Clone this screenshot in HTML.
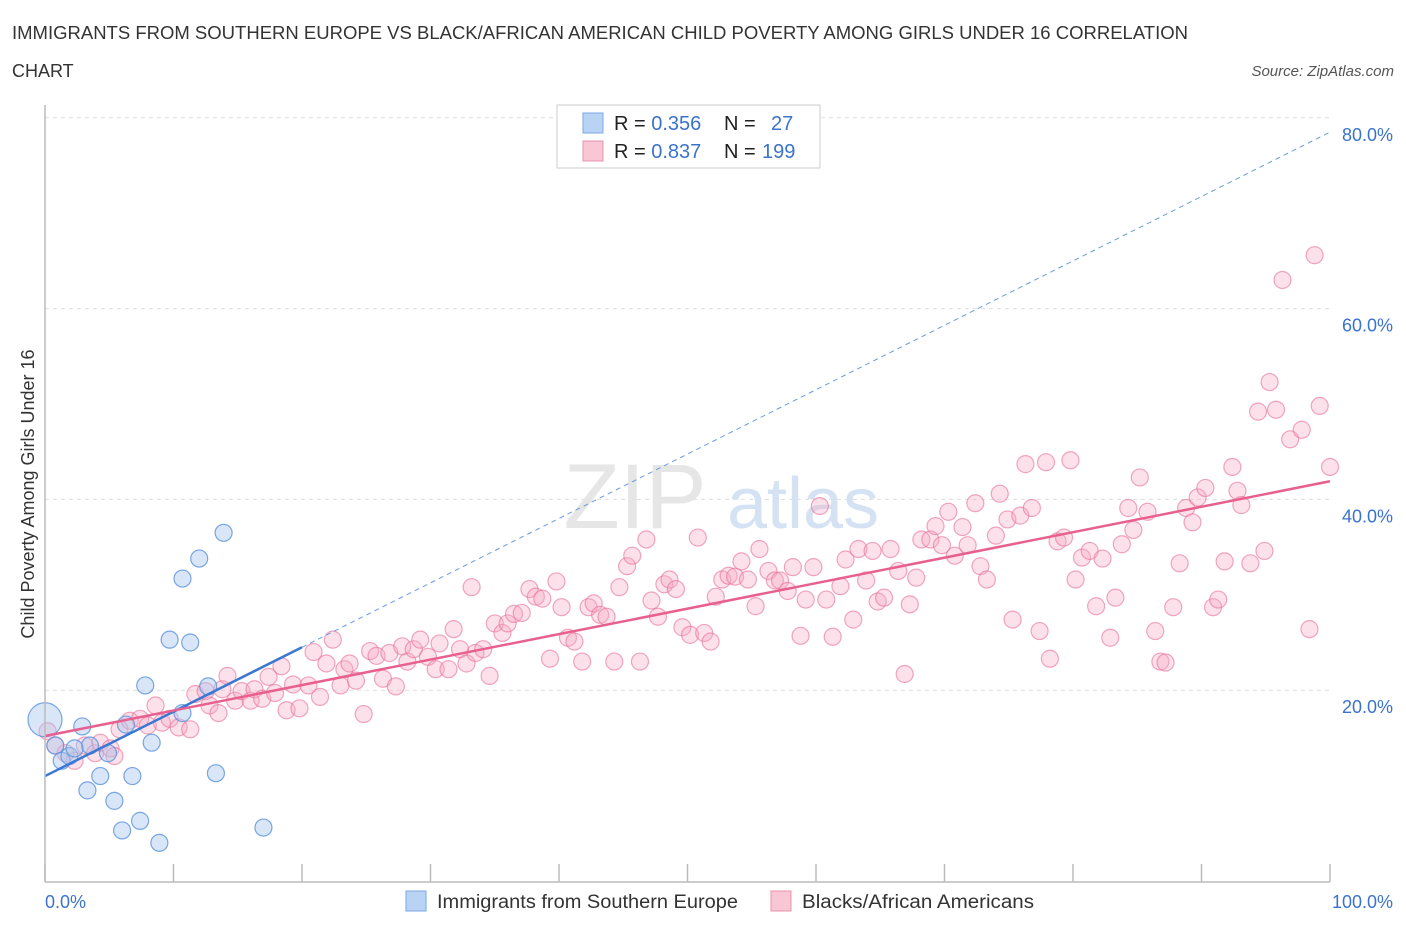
<!DOCTYPE html>
<html><head><meta charset="utf-8"><style>
body{margin:0;background:#fff;font-family:"Liberation Sans",sans-serif;}
svg text{font-family:"Liberation Sans",sans-serif;}
</style></head><body>
<svg width="1406" height="930" xmlns="http://www.w3.org/2000/svg">
<text x="12" y="39" font-size="18" fill="#333" textLength="1176" lengthAdjust="spacingAndGlyphs">IMMIGRANTS FROM SOUTHERN EUROPE VS BLACK/AFRICAN AMERICAN CHILD POVERTY AMONG GIRLS UNDER 16 CORRELATION</text>
<text x="12" y="77" font-size="18" fill="#333">CHART</text>
<text x="1394" y="76" font-size="15" fill="#555" font-style="italic" text-anchor="end">Source: ZipAtlas.com</text>
<g id="grid"></g>
<text x="635" y="528" font-size="92" fill="#e6e6e6" font-family="Liberation Serif" text-anchor="middle">ZIP</text>
<text x="803" y="528" font-size="72" fill="#d4e2f3" text-anchor="middle">atlas</text>
<g id="points"></g>
<g id="lines"></g>
<line x1="45" y1="105" x2="45" y2="882" stroke="#bbb" stroke-width="1.5"/>
<line x1="45" y1="882" x2="1330" y2="882" stroke="#bbb" stroke-width="1.5"/>
<text transform="translate(34,494) rotate(-90)" font-size="18" fill="#333" text-anchor="middle">Child Poverty Among Girls Under 16</text>
<text x="45" y="908" font-size="18" fill="#3b73cc">0.0%</text>
<text x="1393" y="908" font-size="18" fill="#3b73cc" text-anchor="end">100.0%</text>
<g>
<rect x="557" y="105" width="263" height="63" fill="#fff" stroke="#ccc"/>
<rect x="583" y="113" width="20" height="20" fill="#b8d3f4" stroke="#7aa8e4"/>
<rect x="583" y="141" width="20" height="20" fill="#f9c6d5" stroke="#ec93b0"/>
<text x="614" y="130" font-size="20" fill="#222">R = <tspan fill="#3b73cc">0.356</tspan><tspan x="724">N = </tspan><tspan x="771" fill="#3b73cc">27</tspan></text>
<text x="614" y="158" font-size="20" fill="#222">R = <tspan fill="#3b73cc">0.837</tspan><tspan x="724">N = </tspan><tspan x="762" fill="#3b73cc">199</tspan></text>
</g>
<g>
<rect x="406" y="891" width="20" height="20" fill="#b8d3f4" stroke="#7aa8e4"/>
<text x="437" y="908" font-size="19" fill="#333" textLength="301" lengthAdjust="spacingAndGlyphs">Immigrants from Southern Europe</text>
<rect x="771" y="891" width="20" height="20" fill="#f9c6d5" stroke="#ec93b0"/>
<text x="802" y="908" font-size="19" fill="#333" textLength="232" lengthAdjust="spacingAndGlyphs">Blacks/African Americans</text>
</g>
</svg>
<script>
const yTicks=[20,40,60,80];
const yTickLabels=["20.0%","40.0%","60.0%","80.0%"];
const xTicks=[0,10,20,30,40,50,60,70,80,90,100];
const blueX=[0,0.8,1.3,1.9,2.9,3.5,4.3,3.3,4.9,5.4,6.0,6.3,6.8,7.4,7.8,8.3,8.9,9.7,10.7,11.3,12.0,12.7,13.3,13.9,17.0,10.7,2.3];
const blueY=[16.9,14.2,12.6,13.1,16.2,14.2,11.0,9.5,13.4,8.4,5.3,16.4,11.0,6.3,20.5,14.5,4.0,25.3,31.7,25.0,33.8,20.4,11.3,36.5,5.6,17.6,13.9];
const pinkX=[0.2,0.8,1.6,2.3,3.1,3.9,4.3,5.1,5.4,5.8,6.6,7.4,8.0,8.6,9.1,9.7,10.4,11.3,11.7,12.5,12.8,13.5,13.8,14.2,14.8,15.3,16.0,16.3,16.9,17.4,17.9,18.4,18.8,19.3,19.8,20.5,20.9,21.4,21.9,22.4,23.0,23.3,23.7,24.2,24.8,25.3,25.8,26.3,26.8,27.3,27.8,28.2,28.7,29.2,29.8,30.4,30.7,31.4,31.8,32.3,32.8,33.2,33.5,34.1,34.6,35.0,35.6,36.0,36.5,37.1,37.7,38.2,38.7,39.3,39.8,40.2,40.7,41.2,41.8,42.3,42.7,43.2,43.7,44.3,44.7,45.3,45.7,46.3,46.8,47.2,47.7,48.2,48.6,49.1,49.6,50.2,50.8,51.3,51.8,52.2,52.7,53.2,53.7,54.2,54.7,55.3,55.6,56.3,56.8,57.2,57.8,58.2,58.8,59.2,59.8,60.3,60.8,61.3,61.9,62.3,62.9,63.3,63.9,64.4,64.8,65.3,65.8,66.4,66.9,67.3,67.8,68.2,68.9,69.3,69.8,70.3,70.8,71.4,71.8,72.4,72.8,73.3,74.0,74.3,74.9,75.3,75.9,76.3,76.8,77.4,77.9,78.2,78.8,79.3,79.8,80.2,80.7,81.3,81.8,82.3,82.9,83.3,83.8,84.3,84.7,85.2,85.8,86.4,86.8,87.2,87.8,88.3,88.8,89.3,89.7,90.3,90.9,91.3,91.8,92.4,92.8,93.1,93.8,94.4,94.9,95.3,95.8,96.3,96.9,97.8,98.4,98.8,99.2,100];
const pinkY=[15.7,14.2,13.4,12.6,14.2,13.4,14.5,13.9,13.1,15.9,16.8,17.0,16.3,18.4,16.6,17.0,16.1,15.9,19.6,19.9,18.4,17.6,20.1,21.5,18.9,19.9,18.9,20.1,19.1,21.4,19.7,22.5,17.9,20.6,18.1,20.5,24.0,19.3,22.8,25.3,20.5,22.2,22.8,21.0,17.5,24.1,23.6,21.2,23.9,20.4,24.6,23.0,24.3,25.3,23.5,22.2,24.9,22.2,26.4,24.3,22.8,30.8,23.9,24.3,21.5,27.0,26.0,27.0,28.0,28.1,30.6,29.8,29.6,23.3,31.4,28.7,25.5,25.1,23.0,28.7,29.1,27.9,27.7,23.0,30.8,33.0,34.1,23.0,35.8,29.4,27.7,31.1,31.6,30.6,26.6,25.8,36.0,26.0,25.1,29.8,31.6,32.0,31.9,33.5,31.6,28.8,34.8,32.5,31.5,31.5,30.4,32.9,25.7,29.5,32.9,39.3,29.5,25.6,30.9,33.7,27.4,34.8,31.5,34.6,29.3,29.7,34.8,32.5,21.7,29.0,31.8,35.8,35.8,37.2,35.2,38.7,34.1,37.1,35.2,39.6,33.0,31.6,36.2,40.6,37.9,27.4,38.3,43.7,39.1,26.2,43.9,23.3,35.6,36.0,44.1,31.6,33.9,34.6,28.8,33.8,25.5,29.7,35.3,39.1,36.8,42.3,38.7,26.2,23.0,22.9,28.7,33.3,39.1,37.6,40.2,41.2,28.7,29.5,33.5,43.4,40.9,39.4,33.3,49.2,34.6,52.3,49.4,63.0,46.3,47.3,26.4,65.6,49.8,43.4];
const blueLine=[[0,11.0],[20,24.5],[100,78.5]];
const pinkLine=[[0,15.2],[100,41.9]];
const NS="http://www.w3.org/2000/svg";
const sx=v=>45+v*12.85, sy=v=>881-v*9.54;
function mk(tag,attrs,parent){const e=document.createElementNS(NS,tag);for(const k in attrs)e.setAttribute(k,attrs[k]);parent.appendChild(e);return e;}
const grid=document.getElementById('grid');
yTicks.forEach((t,i)=>{
  const l=mk('line',{x1:45,y1:sy(t),x2:1330,y2:sy(t),stroke:'#ddd','stroke-dasharray':'4,4'},grid);
  
  
  const tx=mk('text',{x:1393,y:sy(t)+23,'font-size':18,fill:'#3b73cc','text-anchor':'end'},grid);
  tx.textContent=yTickLabels[i];
  
  
});
xTicks.forEach(t=>{
  const l=mk('line',{x1:sx(t),y1:864,x2:sx(t),y2:882,stroke:'#bbb','stroke-width':1.5},grid);
  
  
});
const pts=document.getElementById('points');
pinkX.forEach((x,i)=>{
  const c=mk('circle',{cx:sx(x),cy:sy(pinkY[i]),r:8.5,fill:'rgba(246,170,195,0.35)',stroke:'rgba(232,110,150,0.6)','stroke-width':1.2},pts);
  
  
});
blueX.forEach((x,i)=>{
  const c=mk('circle',{cx:sx(x),cy:sy(blueY[i]),r:i===0?17:8.5,fill:'rgba(168,200,240,0.45)',stroke:'rgba(90,145,220,0.8)','stroke-width':1.2},pts);
  
  
});
const lines=document.getElementById('lines');
const b1=mk('line',{x1:sx(blueLine[0][0]),y1:sy(blueLine[0][1]),x2:sx(blueLine[1][0]),y2:sy(blueLine[1][1]),stroke:'#3a78d4','stroke-width':2.5},lines);


const b2=mk('line',{x1:sx(blueLine[1][0]),y1:sy(blueLine[1][1]),x2:sx(blueLine[2][0]),y2:sy(blueLine[2][1]),stroke:'#6a9be0','stroke-width':1,'stroke-dasharray':'5,4'},lines);


const p1=mk('line',{x1:sx(pinkLine[0][0]),y1:sy(pinkLine[0][1]),x2:sx(pinkLine[1][0]),y2:sy(pinkLine[1][1]),stroke:'#e8608f','stroke-width':2.5},lines);


</script>
</body></html>
